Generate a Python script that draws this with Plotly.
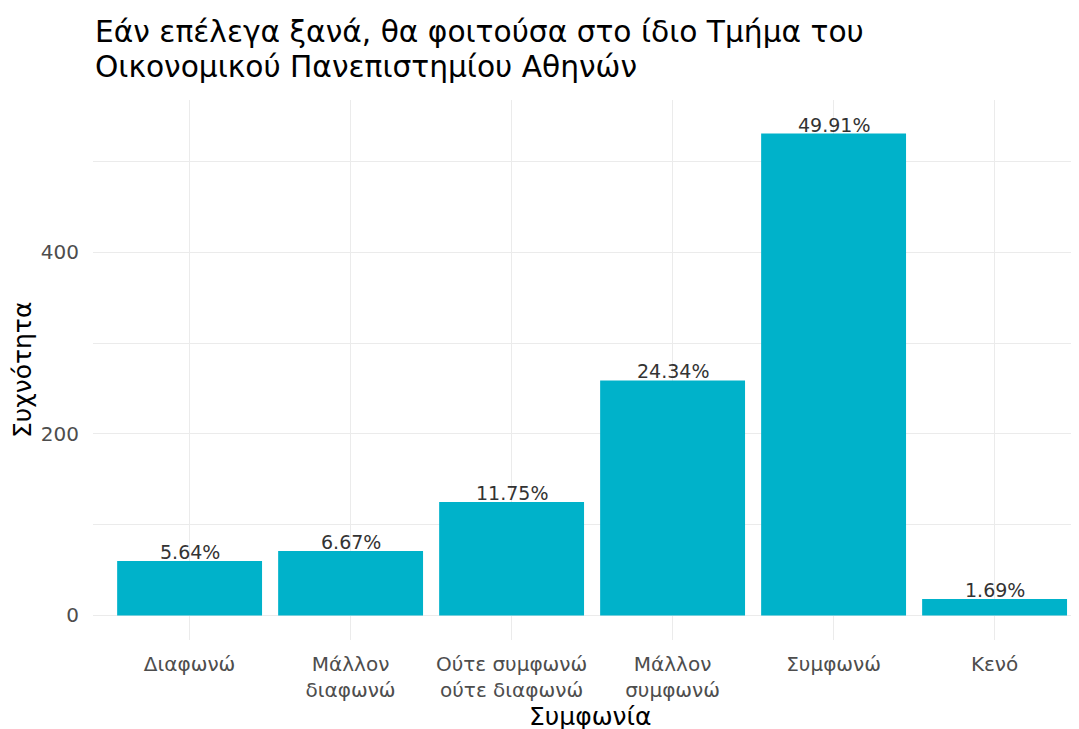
import plotly.graph_objects as go

categories = ["Διαφωνώ", "Μάλλον<br>διαφωνώ", "Ούτε συμφωνώ<br>ούτε διαφωνώ",
              "Μάλλον<br>συμφωνώ", "Συμφωνώ", "Κενό"]
counts = [60, 71, 125, 259, 531, 18]
percent_labels = ["5.64%", "6.67%", "11.75%", "24.34%", "49.91%", "1.69%"]
y_ticks = [0, 200, 400]
y_minor_ticks = [100, 300, 500]

title_lines = ["Εάν επέλεγα ξανά, θα φοιτούσα στο ίδιο Τμήμα του",
               "Οικονομικού Πανεπιστημίου Αθηνών"]
x_title = "Συμφωνία"
y_title = "Συχνότητα"

FONT = "DejaVu Sans, Liberation Sans, Arial, sans-serif"
GRID = "#EBEBEB"
BAR = "#00B2CA"

x_idx = list(range(len(categories)))

fig = go.Figure()
fig.add_trace(go.Bar(
    x=x_idx, y=counts, width=0.9,
    marker=dict(color=BAR, line=dict(width=0)),
    hoverinfo="y",
))

for xi, c, lab in zip(x_idx, counts, percent_labels):
    fig.add_annotation(x=xi, y=c, text=lab, showarrow=False,
                       xref="x", yref="y", yanchor="bottom", yshift=-4,
                       font=dict(family=FONT, size=19, color="#333333"))

# title (two lines, left aligned to the panel)
for line, ypos in zip(title_lines, [1.163, 1.098]):
    fig.add_annotation(text=line, xref="paper", yref="paper", x=0, y=ypos,
                       xanchor="left", yanchor="top", showarrow=False,
                       font=dict(family=FONT, size=29.7, color="#000000"))

# axis titles
fig.add_annotation(text=x_title, xref="paper", yref="paper", x=0.5, y=-0.1107,
                   xanchor="center", yanchor="top", showarrow=False,
                   font=dict(family=FONT, size=25, color="#000000"))
fig.add_annotation(text=y_title, xref="paper", yref="paper", x=-0.0714, y=0.5,
                   xanchor="center", yanchor="middle", textangle=-90, showarrow=False,
                   font=dict(family=FONT, size=25, color="#000000"))

label_top = max(counts) + 10
fig.update_layout(
    width=1079, height=729,
    paper_bgcolor="white", plot_bgcolor="white",
    margin=dict(l=85, r=0, t=92, b=97, autoexpand=False),
    showlegend=False,
    font=dict(family=FONT),
)

fig.update_xaxes(
    range=[-0.6, 5.574],
    tickmode="array", tickvals=x_idx, ticktext=categories,
    showgrid=True, gridcolor=GRID, gridwidth=1.4,
    zeroline=False, showline=False,
    ticks="outside", ticklen=6, tickcolor="rgba(0,0,0,0)",
    tickfont=dict(family=FONT, size=20, color="#4D4D4D"),
    automargin=False,
)
fig.update_yaxes(
    range=[-0.05 * label_top, 1.05 * label_top],
    tickmode="array", tickvals=y_ticks,
    showgrid=True, gridcolor=GRID, gridwidth=1.4,
    minor=dict(tickmode="array", tickvals=y_minor_ticks, showgrid=True,
               gridcolor=GRID, gridwidth=1.1, ticks=""),
    zeroline=False, showline=False,
    ticks="outside", ticklen=9, tickcolor="rgba(0,0,0,0)",
    tickfont=dict(family=FONT, size=20, color="#4D4D4D"),
    automargin=False,
)

fig.write_html("out.html")
